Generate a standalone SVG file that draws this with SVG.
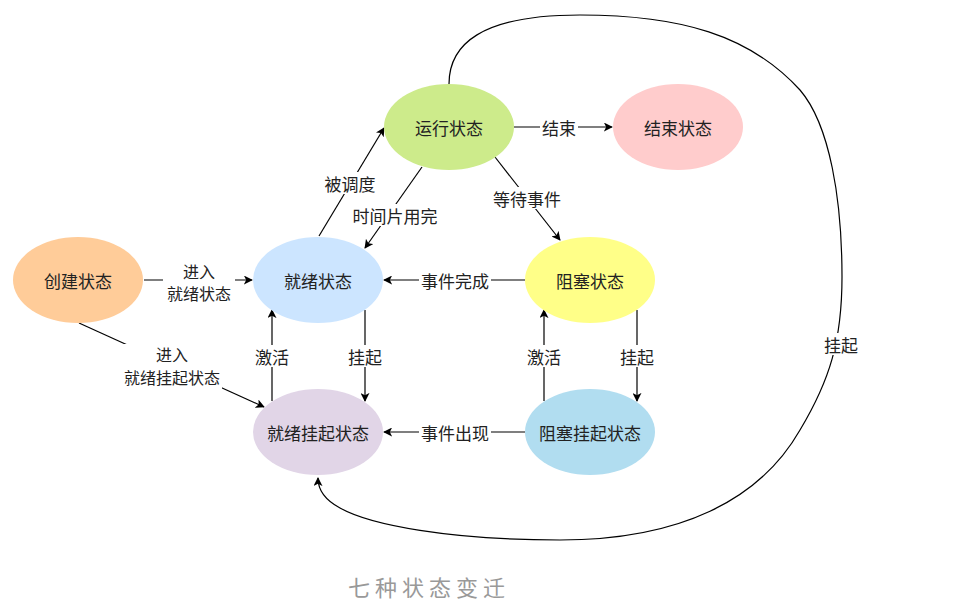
<svg xmlns="http://www.w3.org/2000/svg" width="963" height="615" viewBox="0 0 963 615">
<defs>
<marker id="arr" viewBox="0 0 10 10" refX="9" refY="5" markerWidth="9" markerHeight="9" markerUnits="userSpaceOnUse" orient="auto">
<path d="M0,0 L10,5 L0,10 L2.5,5 Z" fill="#000"/>
</marker>
<style>
.n{stroke:none}
.t{font-family:"Noto Sans CJK SC","Liberation Sans",sans-serif;font-size:17px;fill:#222;text-anchor:middle;dominant-baseline:central}
.s{font-size:16px}
.e{fill:none;stroke:#000;stroke-width:1.2}
.bg{fill:#fff}
.title{font-family:"Noto Sans CJK SC","Liberation Sans",sans-serif;font-size:22px;fill:#999;text-anchor:middle;dominant-baseline:central;letter-spacing:5px}
</style>
</defs>
<rect width="963" height="615" fill="#fff"/>
<g id="connectors">
<line class="e" x1="144" y1="280" x2="252" y2="280" marker-end="url(#arr)"/>
<line class="e" x1="79" y1="323" x2="264" y2="407" marker-end="url(#arr)"/>
<line class="e" x1="319" y1="236" x2="384" y2="128" marker-end="url(#arr)"/>
<line class="e" x1="422" y1="167" x2="365" y2="248" marker-end="url(#arr)"/>
<line class="e" x1="514" y1="127" x2="612" y2="127" marker-end="url(#arr)"/>
<line class="e" x1="495" y1="157" x2="560" y2="240" marker-end="url(#arr)"/>
<line class="e" x1="525" y1="280" x2="384" y2="280" marker-end="url(#arr)"/>
<line class="e" x1="365" y1="310" x2="365" y2="401" marker-end="url(#arr)"/>
<line class="e" x1="272" y1="401" x2="272" y2="310" marker-end="url(#arr)"/>
<line class="e" x1="544" y1="401" x2="544" y2="310" marker-end="url(#arr)"/>
<line class="e" x1="637" y1="310" x2="637" y2="401" marker-end="url(#arr)"/>
<line class="e" x1="525" y1="432" x2="384" y2="432" marker-end="url(#arr)"/>
<path class="e" d="M449,84 C449,45 480,15 580,15 C680,15 750,35 800,90 C830,125 842,200 842,277 C842,340 830,380 800,430 C760,500 680,540 560,540 C450,540 370,525 340,508 C325,500 318,490 318,478" marker-end="url(#arr)"/>
<g id="labels">
<rect class="bg" x="163" y="260" width="72" height="44"/>
<text class="t s" x="199" y="271">进入</text>
<text class="t s" x="199" y="293">就绪状态</text>
<rect class="bg" x="122" y="344" width="100" height="45"/>
<text class="t s" x="172" y="354">进入</text>
<text class="t s" x="172" y="377">就绪挂起状态</text>
<rect class="bg" x="323" y="172" width="54" height="22"/>
<text class="t" x="350" y="183">被调度</text>
<rect class="bg" x="351" y="204" width="88" height="22"/>
<text class="t" x="395" y="215">时间片用完</text>
<rect class="bg" x="540" y="117" width="38" height="22"/>
<text class="t" x="559" y="127">结束</text>
<rect class="bg" x="491" y="187" width="72" height="22"/>
<text class="t" x="527" y="198">等待事件</text>
<rect class="bg" x="419" y="269" width="72" height="22"/>
<text class="t" x="455" y="280">事件完成</text>
<rect class="bg" x="346" y="345" width="38" height="22"/>
<text class="t" x="365" y="356">挂起</text>
<rect class="bg" x="253" y="345" width="38" height="22"/>
<text class="t" x="272" y="356">激活</text>
<rect class="bg" x="525" y="345" width="38" height="22"/>
<text class="t" x="544" y="356">激活</text>
<rect class="bg" x="618" y="345" width="38" height="22"/>
<text class="t" x="637" y="356">挂起</text>
<rect class="bg" x="419" y="421" width="72" height="22"/>
<text class="t" x="455" y="432">事件出现</text>
<rect class="bg" x="822" y="333" width="38" height="22"/>
<text class="t" x="841" y="344">挂起</text>
</g>
</g>
<g id="create"><ellipse class="n" cx="78" cy="280" rx="65" ry="43" fill="#FFCC99"/><text class="t" x="78" y="280">创建状态</text></g>
<g id="running"><ellipse class="n" cx="449" cy="127" rx="65" ry="43" fill="#CDEB8B"/><text class="t" x="449" y="127">运行状态</text></g>
<g id="end"><ellipse class="n" cx="678" cy="127" rx="65" ry="43" fill="#FFCCCC"/><text class="t" x="678" y="127">结束状态</text></g>
<g id="ready"><ellipse class="n" cx="318" cy="280" rx="65" ry="43" fill="#CCE5FF"/><text class="t" x="318" y="280">就绪状态</text></g>
<g id="blocked"><ellipse class="n" cx="590" cy="280" rx="65" ry="43" fill="#FFFF88"/><text class="t" x="590" y="280">阻塞状态</text></g>
<g id="ready-suspend"><ellipse class="n" cx="318" cy="432" rx="65" ry="43" fill="#E1D5E7"/><text class="t" x="318" y="432">就绪挂起状态</text></g>
<g id="blocked-suspend"><ellipse class="n" cx="590" cy="432" rx="65" ry="43" fill="#B1DDF0"/><text class="t" x="590" y="432">阻塞挂起状态</text></g>
<text class="title" x="429" y="586">七种状态变迁</text>
</svg>
